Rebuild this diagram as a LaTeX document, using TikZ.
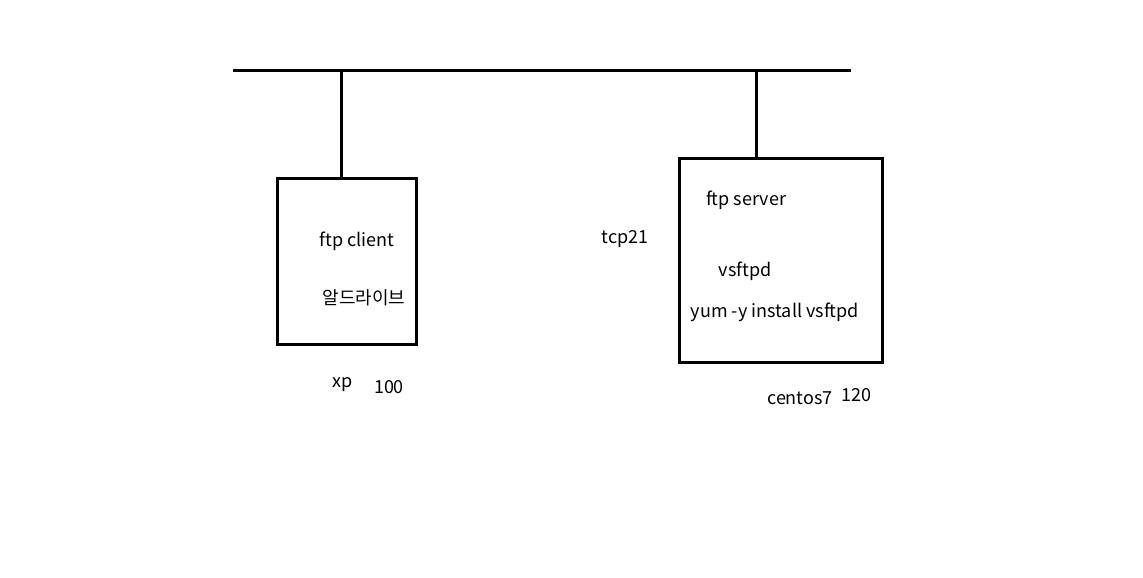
\documentclass[tikz,border=0pt]{standalone}
\usepackage{fontspec}
\setmainfont{Noto Sans CJK KR}
\usetikzlibrary{positioning,calc}

\tikzset{
    host/.style={draw,line width=3pt,inner sep=0pt},
    wire/.style={line width=3pt},
    lbl/.style={inner sep=0pt,font=\fontsize{18}{21}\selectfont}
}

\begin{document}
\begin{tikzpicture}[x=1pt,y=-1pt]
        \useasboundingbox (0,0) rectangle (1143,578);

        % Bus
        \coordinate (busL) at (233,71);
        \coordinate (busR) at (851,71);
        \coordinate (tapL) at (341,71);
        \coordinate (tapR) at (756,71);
        \draw[wire] (busL) -- (busR);

        % Hosts
        \node[host,minimum width=139pt,minimum height=166pt] (client) at (346.5,261) {};
        \node[host,minimum width=203pt,minimum height=204pt] (server) at (780.5,260) {};

        % Drops from bus to hosts
        \draw[wire] (tapL) -- (tapL |- client.north);
        \draw[wire] (tapR) -- (tapR |- server.north);

        % Client texts
        \node[lbl] (cliName) at (357,241) {ftp client};
        \node[lbl] (cliApp) at (364,298) {알드라이브};
        \node[lbl] (cliOS) at (343,385) {xp};
        \node[lbl] (cliIP) at (389,387) {100};

        % Port
        \node[lbl] (port) at (625,239) {tcp21};

        % Server texts
        \node[lbl] (srvName) at (746,200) {ftp server};
        \node[lbl] (srvApp) at (745,271) {vsftpd};
        \node[lbl] (srvCmd) at (775,312) {yum -y install vsftpd};
        \node[lbl] (srvOS) at (800,398) {centos7};
        \node[lbl] (srvIP) at (856,395) {120};
    \end{tikzpicture}
\end{document}
